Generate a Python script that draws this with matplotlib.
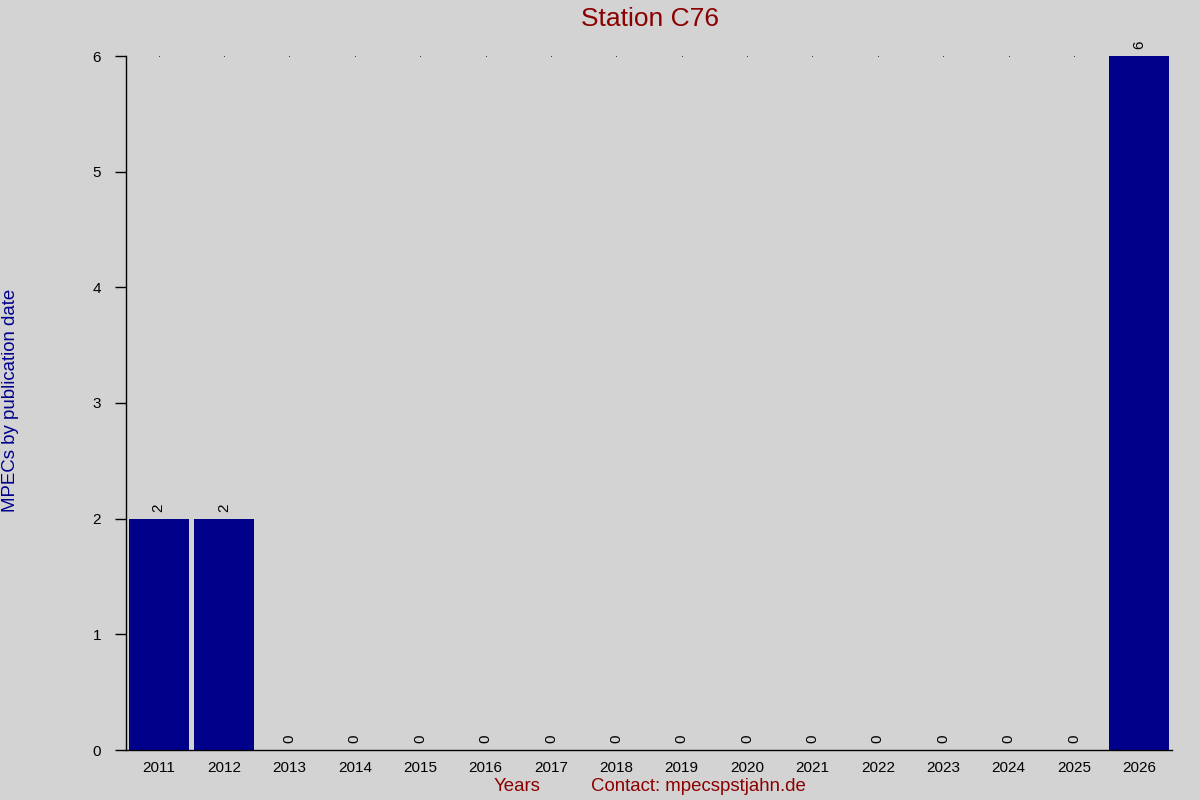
import matplotlib
matplotlib.use("Agg")
import matplotlib.pyplot as plt

plt.rcParams['font.family'] = ['Liberation Sans', 'DejaVu Sans']

years = [2011, 2012, 2013, 2014, 2015, 2016, 2017, 2018, 2019, 2020, 2021, 2022, 2023, 2024, 2025, 2026]
counts = [2, 2, 0, 0, 0, 0, 0, 0, 0, 0, 0, 0, 0, 0, 0, 6]
yticks = [0, 1, 2, 3, 4, 5, 6]
title = "Station C76"

bg = '#d3d3d3'
fig = plt.figure(figsize=(12, 8), dpi=100, facecolor=bg)
ax = fig.add_axes([0.105, 0.0625, 0.8717, 0.8675], facecolor=bg)

ax.bar(years, counts, width=0.92, color='#00008b', zorder=2)
ax.scatter(years, [max(yticks)] * len(years), s=0.3, color='black', linewidths=0, zorder=1)
for x, v in zip(years, counts):
    ax.text(x, v + 0.06, str(v), rotation=90, ha='center', va='bottom', fontsize=11, color='black')

ax.set_xlim(2010.5, 2026.5)
ax.set_ylim(0, 6)
ax.set_xticks(years)
ax.set_xticklabels([str(y) for y in years], fontsize=11)
ax.set_yticks(yticks)
ax.set_yticklabels([str(t) for t in yticks], fontsize=11)
ax.tick_params(axis='x', length=0, pad=8)
ax.tick_params(axis='y', length=8, width=1, pad=10)
for s in ['top', 'right']:
    ax.spines[s].set_visible(False)
ax.spines['left'].set_linewidth(1)
ax.spines['bottom'].set_linewidth(1)

fig.text(0.5417, 0.976, title, ha='center', va='center', fontsize=19, color='#8b0000')
fig.text(0.009, 0.5, "MPECs by publication date", rotation=90, ha='center', va='center', fontsize=13.4, color='#00008b')
fig.text(0.431, 0.017, "Years", ha='center', va='center', fontsize=13.4, color='#8b0000')
fig.text(0.5817, 0.017, "Contact: mpecspstjahn.de", ha='center', va='center', fontsize=13.4, color='#8b0000')

fig.savefig("out.png", dpi=100, facecolor=bg)
